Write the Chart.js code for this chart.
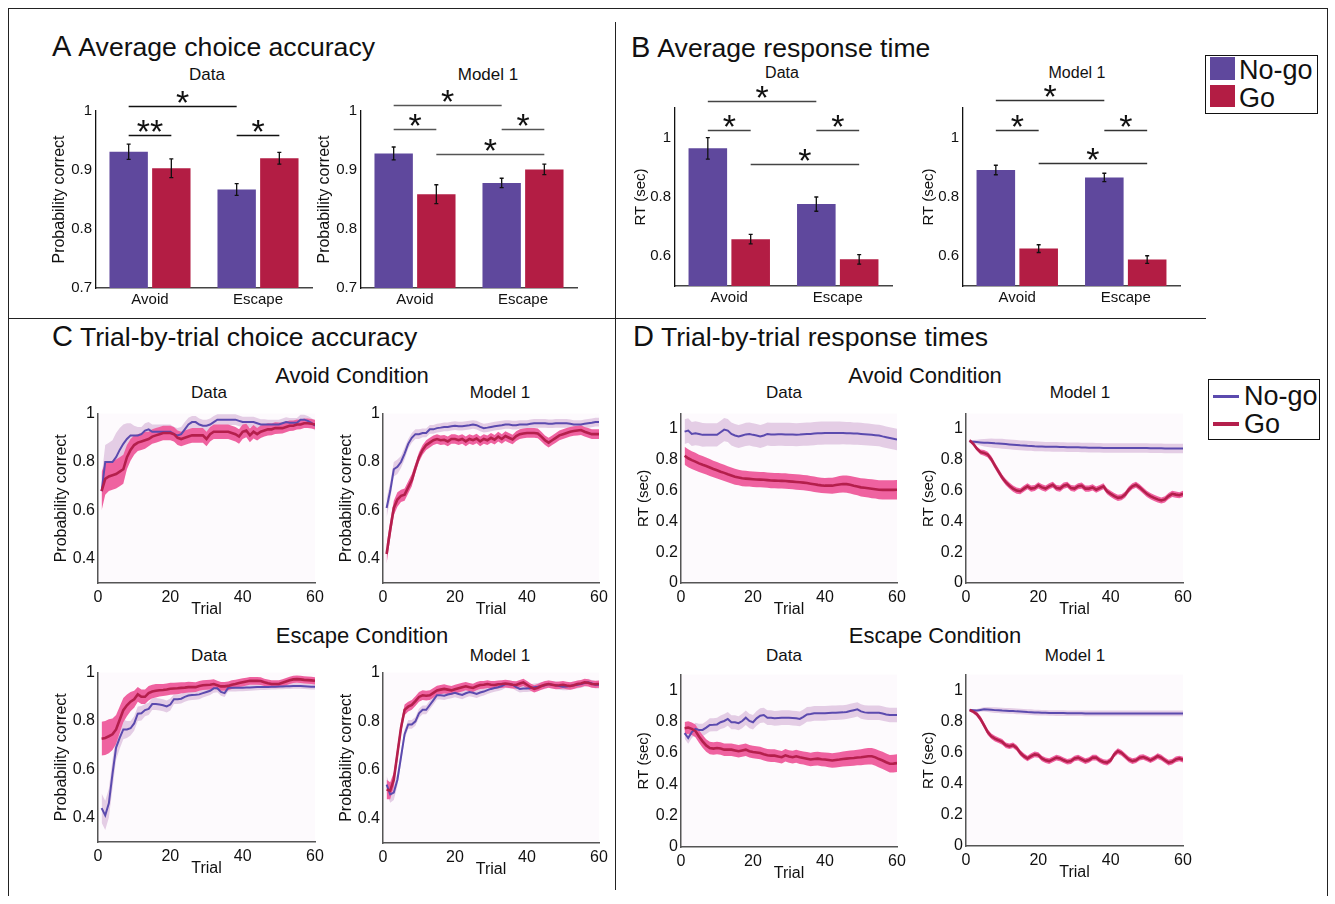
<!DOCTYPE html>
<html>
<head>
<meta charset="utf-8">
<title>Go / No-go avoid and escape</title>
<script src="https://cdn.jsdelivr.net/npm/chart.js@4.4.1/dist/chart.umd.min.js"></script>
<style>
  body { margin: 0; background: #fff; font-family: 'Liberation Sans', Arial, sans-serif; color: #111; }
  #fig { position: relative; width: 1335px; height: 904px; overflow: hidden; }
  #fig canvas { position: absolute; }
  .t { position: absolute; white-space: nowrap; line-height: 1; transform: translate(-50%, -50%); }
  .hd { position: absolute; white-space: nowrap; line-height: 1; transform: translateY(-50%); font-size: 26.6px; }
  .hd span { font-size: 29px; margin-right: 7px; }
  .rule { position: absolute; background: #222; }
  .legend { position: absolute; border: 1.5px solid #111; background: #fff; font-size: 27px; }
  .legend div { position: absolute; }
  .legend .lab { left: 33px; line-height: 1; transform: translateY(-50%); }
</style>
</head>
<body>
<div id="fig">
  <div class="rule" style="left:8px;top:8px;width:1320px;height:1px"></div>
  <div class="rule" style="left:8px;top:8px;width:1px;height:888px"></div>
  <div class="rule" style="left:1327px;top:8px;width:1px;height:888px"></div>
  <div class="rule" style="left:615px;top:22px;width:1px;height:868px"></div>
  <div class="rule" style="left:8px;top:318px;width:1198px;height:1px"></div>

  <div class="hd" style="left:52px;top:46px"><span>A</span>Average choice accuracy</div>
  <div class="hd" style="left:631px;top:47px"><span>B</span>Average response time</div>
  <div class="hd" style="left:52px;top:336px"><span>C</span>Trial-by-trial choice accuracy</div>
  <div class="hd" style="left:633px;top:336px"><span>D</span>Trial-by-trial response times</div>

  <div class="t" style="left:207px;top:74px;font-size:17px">Data</div>
  <div class="t" style="left:488px;top:74px;font-size:17px">Model 1</div>
  <div class="t" style="left:782px;top:73px;font-size:16px">Data</div>
  <div class="t" style="left:1077px;top:73px;font-size:16px">Model 1</div>

  <div class="t" style="left:352px;top:376px;font-size:22px">Avoid Condition</div>
  <div class="t" style="left:362px;top:636px;font-size:22px">Escape Condition</div>
  <div class="t" style="left:925px;top:376px;font-size:22px">Avoid Condition</div>
  <div class="t" style="left:935px;top:636px;font-size:22px">Escape Condition</div>

  <div class="t" style="left:209px;top:392px;font-size:17px">Data</div>
  <div class="t" style="left:500px;top:392px;font-size:17px">Model 1</div>
  <div class="t" style="left:209px;top:655px;font-size:17px">Data</div>
  <div class="t" style="left:500px;top:655px;font-size:17px">Model 1</div>
  <div class="t" style="left:784px;top:392px;font-size:17px">Data</div>
  <div class="t" style="left:1080px;top:392px;font-size:17px">Model 1</div>
  <div class="t" style="left:784px;top:655px;font-size:17px">Data</div>
  <div class="t" style="left:1075px;top:655px;font-size:17px">Model 1</div>

  <div class="legend" style="left:1205px;top:55px;width:111px;height:57px">
    <div style="left:4px;top:1px;width:25px;height:23px;background:#5f489d"></div>
    <div class="lab" style="top:14px">No-go</div>
    <div style="left:4px;top:29px;width:25px;height:22px;background:#b31d44"></div>
    <div class="lab" style="top:42px">Go</div>
  </div>
  <div class="legend" style="left:1208px;top:379px;width:110px;height:59px">
    <div style="left:4px;top:15px;width:26px;height:3px;background:#5b4aae"></div>
    <div class="lab" style="left:35px;top:16px">No-go</div>
    <div style="left:4px;top:42px;width:26px;height:4px;background:#b41f4c"></div>
    <div class="lab" style="left:35px;top:44px">Go</div>
  </div>
</div>

<script>
// ---- bar data (A: choice accuracy, B: response time) ----
const conditions = ['Avoid', 'Escape'];

const accDataNogo = [0.931, 0.867];
const accDataNogoErr = [0.013, 0.010];
const accDataGo = [0.903, 0.920];
const accDataGoErr = [0.016, 0.010];

const accModelNogo = [0.928, 0.878];
const accModelNogoErr = [0.011, 0.008];
const accModelGo = [0.859, 0.901];
const accModelGoErr = [0.016, 0.009];

const rtDataNogo = [0.964, 0.776];
const rtDataNogoErr = [0.036, 0.024];
const rtDataGo = [0.658, 0.590];
const rtDataGoErr = [0.016, 0.016];

const rtModelNogo = [0.891, 0.866];
const rtModelNogoErr = [0.016, 0.014];
const rtModelGo = [0.626, 0.589];
const rtModelGoErr = [0.013, 0.013];

const accTicks = [0.7, 0.8, 0.9, 1];
const rtBarTicks = [0.6, 0.8, 1];

// ---- trial-by-trial data (C: accuracy, D: RT) ----
const trials = [1,2,3,4,5,6,7,8,9,10,11,12,13,14,15,16,17,18,19,20,21,22,23,24,25,26,27,28,29,30,
  31,32,33,34,35,36,37,38,39,40,41,42,43,44,45,46,47,48,49,50,51,52,53,54,55,56,57,58,59,60];
const trialTicks = [0, 20, 40, 60];
const probTicks = [0.4, 0.6, 0.8, 1];
const rtTicks = [0, 0.2, 0.4, 0.6, 0.8, 1];

const cAvDataNogo = [0.68,0.80,0.80,0.80,0.82,0.85,0.875,0.895,0.91,0.91,
  0.91,0.915,0.93,0.935,0.925,0.925,0.925,0.925,0.925,0.925,
  0.915,0.91,0.915,0.935,0.955,0.965,0.965,0.955,0.95,0.95,
  0.955,0.965,0.975,0.975,0.975,0.975,0.975,0.975,0.97,0.965,
  0.965,0.965,0.965,0.96,0.955,0.955,0.955,0.955,0.955,0.955,
  0.96,0.965,0.962,0.962,0.962,0.975,0.975,0.97,0.962,0.95];
const cAvDataNogoSem = [0.06,0.07,0.08,0.09,0.10,0.09,0.08,0.065,0.05,0.04,
  0.035,0.03,0.03,0.03,0.03,0.03,0.03,0.03,0.03,0.03,
  0.03,0.03,0.03,0.03,0.028,0.025,0.025,0.025,0.025,0.025,
  0.025,0.025,0.022,0.022,0.022,0.022,0.022,0.022,0.022,0.022,
  0.022,0.022,0.022,0.022,0.022,0.022,0.02,0.02,0.02,0.02,
  0.02,0.02,0.02,0.02,0.02,0.02,0.02,0.02,0.02,0.02];
const cAvDataGo = [0.68,0.73,0.74,0.745,0.75,0.76,0.77,0.82,0.85,0.87,
  0.88,0.885,0.89,0.895,0.905,0.91,0.915,0.92,0.92,0.92,
  0.915,0.90,0.895,0.90,0.905,0.91,0.91,0.91,0.91,0.895,
  0.915,0.925,0.925,0.925,0.925,0.925,0.92,0.915,0.905,0.925,
  0.93,0.91,0.925,0.915,0.925,0.93,0.935,0.935,0.94,0.94,
  0.94,0.945,0.95,0.95,0.955,0.955,0.96,0.96,0.958,0.955];
const cAvDataGoSem = [0.08,0.065,0.06,0.06,0.06,0.06,0.06,0.05,0.045,0.04,
  0.035,0.035,0.035,0.03,0.03,0.03,0.03,0.03,0.03,0.03,
  0.03,0.03,0.03,0.03,0.03,0.03,0.03,0.03,0.03,0.03,
  0.03,0.03,0.03,0.03,0.03,0.03,0.03,0.03,0.03,0.03,
  0.028,0.028,0.028,0.026,0.026,0.025,0.025,0.024,0.024,0.023,
  0.022,0.022,0.022,0.021,0.021,0.02,0.02,0.02,0.02,0.02];

const cAvModelNogo = [0.61,0.68,0.77,0.78,0.80,0.835,0.875,0.90,0.915,0.915,
  0.92,0.92,0.935,0.935,0.94,0.942,0.945,0.945,0.948,0.95,
  0.948,0.948,0.95,0.952,0.955,0.952,0.945,0.94,0.942,0.945,
  0.948,0.95,0.952,0.955,0.955,0.952,0.952,0.955,0.955,0.955,
  0.958,0.96,0.96,0.96,0.96,0.958,0.958,0.96,0.96,0.96,
  0.96,0.958,0.955,0.955,0.955,0.958,0.96,0.962,0.965,0.965];
const cAvModelNogoSem = [0.04,0.035,0.03,0.03,0.025,0.025,0.02,0.02,0.02,0.02,
  0.018,0.018,0.018,0.018,0.018,0.018,0.018,0.018,0.018,0.018,
  0.018,0.018,0.018,0.018,0.018,0.018,0.018,0.018,0.018,0.018,
  0.018,0.018,0.018,0.018,0.018,0.018,0.018,0.018,0.018,0.018,
  0.018,0.018,0.018,0.018,0.018,0.018,0.018,0.018,0.018,0.018,
  0.018,0.018,0.018,0.018,0.018,0.018,0.018,0.018,0.018,0.018];
const cAvModelGo = [0.42,0.52,0.61,0.645,0.66,0.665,0.695,0.725,0.775,0.82,
  0.85,0.87,0.88,0.89,0.895,0.89,0.892,0.885,0.895,0.895,
  0.89,0.895,0.885,0.895,0.89,0.897,0.885,0.895,0.89,0.90,
  0.892,0.905,0.895,0.907,0.90,0.893,0.907,0.915,0.918,0.92,
  0.92,0.92,0.918,0.905,0.89,0.88,0.89,0.90,0.91,0.915,
  0.92,0.925,0.928,0.93,0.932,0.925,0.92,0.915,0.915,0.915];
const cAvModelGoSem = [0.04,0.035,0.03,0.03,0.025,0.025,0.025,0.025,0.02,0.02,
  0.02,0.02,0.02,0.02,0.02,0.02,0.02,0.02,0.02,0.02,
  0.02,0.02,0.02,0.02,0.02,0.02,0.02,0.02,0.02,0.02,
  0.02,0.02,0.02,0.02,0.02,0.02,0.02,0.02,0.02,0.02,
  0.02,0.02,0.02,0.02,0.02,0.02,0.02,0.02,0.02,0.02,
  0.02,0.02,0.02,0.02,0.02,0.02,0.02,0.02,0.02,0.02];

const cEsDataNogo = [0.44,0.41,0.46,0.58,0.69,0.73,0.765,0.765,0.77,0.79,
  0.83,0.832,0.845,0.85,0.87,0.87,0.868,0.865,0.86,0.868,
  0.89,0.89,0.892,0.90,0.905,0.907,0.908,0.91,0.915,0.92,
  0.925,0.935,0.935,0.92,0.915,0.937,0.937,0.937,0.937,0.937,
  0.938,0.938,0.939,0.94,0.94,0.94,0.941,0.942,0.942,0.943,
  0.943,0.944,0.944,0.945,0.945,0.945,0.944,0.943,0.942,0.942];
const cEsDataNogoSem = [0.06,0.06,0.06,0.06,0.05,0.045,0.04,0.035,0.03,0.03,
  0.03,0.03,0.025,0.025,0.025,0.025,0.025,0.025,0.025,0.025,
  0.02,0.02,0.02,0.02,0.02,0.02,0.02,0.02,0.018,0.018,
  0.018,0.018,0.016,0.016,0.016,0.015,0.015,0.015,0.014,0.014,
  0.014,0.013,0.013,0.013,0.012,0.012,0.012,0.012,0.012,0.012,
  0.012,0.012,0.012,0.012,0.012,0.012,0.012,0.012,0.012,0.012];
const cEsDataGo = [0.727,0.73,0.737,0.745,0.765,0.805,0.845,0.865,0.88,0.89,
  0.91,0.90,0.90,0.915,0.922,0.925,0.927,0.928,0.93,0.933,
  0.934,0.935,0.937,0.938,0.94,0.94,0.94,0.945,0.948,0.949,
  0.95,0.953,0.948,0.943,0.943,0.945,0.95,0.953,0.957,0.96,
  0.963,0.966,0.966,0.966,0.965,0.96,0.956,0.953,0.953,0.953,
  0.958,0.963,0.968,0.972,0.973,0.972,0.97,0.969,0.968,0.966];
const cEsDataGoSem = [0.07,0.07,0.07,0.065,0.06,0.055,0.05,0.045,0.04,0.035,
  0.03,0.03,0.03,0.03,0.028,0.028,0.026,0.025,0.025,0.025,
  0.024,0.024,0.023,0.022,0.022,0.021,0.02,0.02,0.02,0.02,
  0.02,0.02,0.018,0.018,0.018,0.018,0.018,0.017,0.017,0.017,
  0.016,0.016,0.016,0.016,0.016,0.015,0.015,0.015,0.015,0.015,
  0.015,0.015,0.015,0.015,0.015,0.015,0.015,0.015,0.015,0.015];

const cEsModelNogo = [0.54,0.50,0.507,0.56,0.653,0.747,0.787,0.787,0.80,0.833,
  0.847,0.847,0.867,0.887,0.907,0.907,0.905,0.91,0.913,0.917,
  0.912,0.908,0.915,0.92,0.917,0.912,0.918,0.922,0.928,0.933,
  0.937,0.94,0.945,0.953,0.952,0.95,0.94,0.933,0.935,0.935,
  0.937,0.94,0.942,0.945,0.948,0.953,0.95,0.948,0.945,0.942,
  0.943,0.945,0.948,0.95,0.953,0.957,0.96,0.955,0.95,0.95];
const cEsModelNogoSem = [0.035,0.035,0.03,0.025,0.025,0.02,0.018,0.018,0.018,0.018,
  0.018,0.018,0.018,0.018,0.018,0.018,0.018,0.018,0.018,0.018,
  0.017,0.017,0.017,0.017,0.017,0.016,0.016,0.016,0.016,0.016,
  0.016,0.016,0.016,0.016,0.016,0.015,0.015,0.015,0.015,0.015,
  0.015,0.015,0.015,0.015,0.015,0.015,0.015,0.015,0.015,0.015,
  0.015,0.015,0.015,0.015,0.015,0.015,0.015,0.015,0.015,0.015];
const cEsModelGo = [0.52,0.515,0.56,0.667,0.773,0.847,0.86,0.867,0.883,0.90,
  0.907,0.905,0.907,0.917,0.927,0.93,0.933,0.93,0.927,0.932,
  0.936,0.94,0.944,0.94,0.937,0.944,0.949,0.95,0.953,0.95,
  0.949,0.952,0.953,0.955,0.953,0.95,0.949,0.955,0.96,0.95,
  0.94,0.933,0.938,0.945,0.95,0.953,0.95,0.947,0.948,0.95,
  0.947,0.945,0.948,0.953,0.955,0.96,0.958,0.953,0.952,0.953];
const cEsModelGoSem = [0.04,0.035,0.03,0.028,0.025,0.022,0.02,0.02,0.02,0.02,
  0.02,0.02,0.02,0.02,0.019,0.019,0.019,0.018,0.018,0.018,
  0.018,0.018,0.017,0.017,0.017,0.017,0.016,0.016,0.016,0.016,
  0.016,0.016,0.016,0.016,0.016,0.015,0.015,0.015,0.015,0.015,
  0.015,0.015,0.015,0.015,0.015,0.015,0.015,0.015,0.015,0.015,
  0.015,0.015,0.015,0.015,0.015,0.015,0.015,0.015,0.015,0.015];

const dAvDataNogo = [0.983,0.99,0.968,0.972,0.968,0.962,0.962,0.962,0.962,0.962,
  0.979,0.996,0.99,0.968,0.958,0.951,0.958,0.965,0.968,0.962,
  0.958,0.951,0.958,0.968,0.965,0.965,0.966,0.966,0.965,0.965,
  0.964,0.963,0.964,0.966,0.967,0.968,0.97,0.972,0.973,0.974,
  0.974,0.974,0.974,0.974,0.974,0.973,0.972,0.97,0.97,0.968,
  0.966,0.964,0.962,0.96,0.958,0.952,0.947,0.942,0.937,0.932];
const dAvDataNogoSem = [0.08,0.08,0.078,0.078,0.077,0.077,0.076,0.076,0.076,0.076,
  0.075,0.075,0.075,0.075,0.075,0.075,0.075,0.075,0.075,0.075,
  0.075,0.075,0.075,0.075,0.075,0.075,0.075,0.075,0.075,0.075,
  0.075,0.075,0.075,0.075,0.075,0.075,0.075,0.075,0.075,0.075,
  0.074,0.074,0.074,0.074,0.073,0.073,0.073,0.072,0.072,0.072,
  0.071,0.071,0.07,0.07,0.07,0.07,0.07,0.07,0.07,0.07];
const dAvDataGo = [0.826,0.81,0.798,0.788,0.777,0.768,0.76,0.75,0.74,0.732,
  0.723,0.715,0.706,0.698,0.69,0.685,0.68,0.678,0.676,0.674,
  0.672,0.671,0.67,0.668,0.666,0.665,0.664,0.663,0.662,0.66,
  0.658,0.656,0.654,0.652,0.649,0.645,0.641,0.637,0.634,0.632,
  0.632,0.632,0.636,0.64,0.643,0.642,0.638,0.632,0.627,0.621,
  0.618,0.615,0.612,0.609,0.606,0.605,0.605,0.605,0.605,0.606];
const dAvDataGoSem = [0.058,0.058,0.057,0.057,0.056,0.056,0.055,0.055,0.054,0.054,
  0.053,0.053,0.052,0.052,0.052,0.051,0.051,0.051,0.05,0.05,
  0.05,0.05,0.05,0.05,0.05,0.05,0.05,0.05,0.05,0.05,
  0.05,0.05,0.05,0.05,0.05,0.05,0.05,0.05,0.05,0.05,
  0.051,0.052,0.053,0.054,0.055,0.056,0.057,0.058,0.058,0.059,
  0.06,0.06,0.061,0.061,0.062,0.062,0.062,0.063,0.063,0.063];

const dAvModelNogo = [0.919,0.917,0.915,0.913,0.911,0.91,0.909,0.907,0.906,0.904,
  0.902,0.90,0.898,0.896,0.894,0.893,0.891,0.89,0.888,0.887,
  0.886,0.885,0.885,0.884,0.884,0.883,0.883,0.882,0.882,0.881,
  0.881,0.88,0.88,0.879,0.879,0.878,0.878,0.877,0.877,0.877,
  0.877,0.877,0.877,0.877,0.876,0.876,0.876,0.876,0.876,0.876,
  0.875,0.875,0.875,0.875,0.874,0.874,0.874,0.874,0.874,0.874];
const dAvModelNogoSem = [0.008,0.012,0.016,0.02,0.024,0.027,0.029,0.03,0.031,0.032,
  0.032,0.032,0.032,0.032,0.032,0.032,0.032,0.032,0.032,0.032,
  0.031,0.031,0.031,0.031,0.031,0.031,0.031,0.031,0.031,0.031,
  0.031,0.031,0.031,0.031,0.031,0.031,0.031,0.031,0.031,0.031,
  0.031,0.031,0.031,0.031,0.031,0.031,0.031,0.031,0.031,0.031,
  0.031,0.031,0.031,0.031,0.031,0.031,0.031,0.031,0.031,0.031];
const dAvModelGo = [0.926,0.904,0.872,0.851,0.845,0.834,0.804,0.762,0.723,0.685,
  0.655,0.632,0.613,0.60,0.596,0.613,0.628,0.613,0.617,0.634,
  0.621,0.613,0.628,0.638,0.617,0.613,0.632,0.638,0.617,0.613,
  0.628,0.632,0.613,0.613,0.621,0.606,0.617,0.628,0.596,0.579,
  0.564,0.553,0.557,0.574,0.606,0.628,0.638,0.621,0.60,0.579,
  0.564,0.553,0.543,0.536,0.543,0.564,0.579,0.574,0.57,0.579];
const dAvModelGoSem = [0.01,0.012,0.014,0.016,0.018,0.019,0.02,0.02,0.02,0.02,
  0.02,0.02,0.02,0.02,0.02,0.02,0.02,0.02,0.02,0.02,
  0.02,0.02,0.02,0.02,0.02,0.02,0.02,0.02,0.02,0.02,
  0.02,0.02,0.02,0.02,0.02,0.02,0.02,0.02,0.02,0.02,
  0.02,0.02,0.02,0.02,0.02,0.02,0.02,0.02,0.02,0.02,
  0.02,0.02,0.02,0.02,0.02,0.02,0.02,0.02,0.02,0.02];

const dEsDataNogo = [0.726,0.695,0.733,0.754,0.747,0.747,0.762,0.779,0.78,0.782,
  0.796,0.804,0.817,0.796,0.796,0.79,0.804,0.825,0.804,0.796,
  0.821,0.838,0.842,0.825,0.825,0.821,0.823,0.825,0.825,0.825,
  0.823,0.821,0.817,0.83,0.846,0.848,0.853,0.853,0.853,0.853,
  0.855,0.857,0.857,0.858,0.859,0.862,0.868,0.873,0.878,0.865,
  0.859,0.857,0.857,0.857,0.857,0.852,0.846,0.842,0.842,0.842];
const dEsDataNogoSem = [0.035,0.036,0.037,0.038,0.039,0.04,0.041,0.042,0.042,0.043,
  0.043,0.044,0.044,0.045,0.045,0.045,0.046,0.046,0.046,0.046,
  0.047,0.047,0.047,0.047,0.047,0.047,0.047,0.047,0.047,0.047,
  0.047,0.047,0.047,0.047,0.047,0.047,0.047,0.047,0.047,0.047,
  0.046,0.046,0.046,0.046,0.046,0.046,0.046,0.046,0.046,0.046,
  0.046,0.046,0.046,0.046,0.046,0.046,0.046,0.046,0.046,0.046];
const dEsDataGo = [0.758,0.762,0.754,0.741,0.705,0.674,0.648,0.632,0.628,0.632,
  0.628,0.621,0.621,0.621,0.616,0.611,0.616,0.621,0.611,0.606,
  0.603,0.60,0.592,0.585,0.583,0.583,0.578,0.573,0.585,0.578,
  0.573,0.579,0.572,0.568,0.563,0.558,0.562,0.564,0.56,0.558,
  0.555,0.552,0.555,0.558,0.562,0.564,0.566,0.568,0.571,0.573,
  0.576,0.579,0.579,0.572,0.561,0.552,0.541,0.531,0.532,0.535];
const dEsDataGoSem = [0.04,0.04,0.04,0.04,0.04,0.04,0.04,0.04,0.04,0.04,
  0.04,0.04,0.04,0.04,0.04,0.04,0.04,0.04,0.04,0.04,
  0.04,0.04,0.04,0.04,0.04,0.04,0.04,0.04,0.04,0.04,
  0.041,0.041,0.042,0.042,0.043,0.043,0.044,0.044,0.045,0.045,
  0.046,0.046,0.047,0.047,0.048,0.048,0.049,0.05,0.05,0.051,
  0.052,0.052,0.053,0.054,0.054,0.055,0.055,0.056,0.056,0.056];

const dEsModelNogo = [0.873,0.871,0.869,0.873,0.877,0.876,0.874,0.872,0.871,0.869,
  0.868,0.867,0.866,0.864,0.863,0.862,0.86,0.859,0.857,0.856,
  0.855,0.855,0.854,0.854,0.853,0.853,0.853,0.852,0.852,0.852,
  0.852,0.852,0.851,0.851,0.851,0.851,0.851,0.851,0.851,0.851,
  0.851,0.851,0.851,0.851,0.851,0.851,0.851,0.851,0.851,0.851,
  0.851,0.851,0.851,0.851,0.851,0.851,0.851,0.851,0.851,0.851];
const dEsModelNogoSem = [0.006,0.008,0.01,0.012,0.014,0.016,0.017,0.018,0.018,0.018,
  0.018,0.018,0.018,0.018,0.018,0.018,0.018,0.018,0.018,0.018,
  0.018,0.018,0.018,0.018,0.018,0.018,0.018,0.018,0.018,0.018,
  0.018,0.018,0.018,0.018,0.018,0.018,0.018,0.018,0.018,0.018,
  0.018,0.018,0.018,0.018,0.018,0.018,0.018,0.018,0.018,0.018,
  0.018,0.018,0.018,0.018,0.018,0.018,0.018,0.018,0.018,0.018];
const dEsModelGo = [0.873,0.863,0.846,0.816,0.774,0.731,0.704,0.689,0.679,0.668,
  0.647,0.64,0.647,0.63,0.598,0.577,0.562,0.577,0.588,0.584,
  0.562,0.55,0.545,0.556,0.567,0.562,0.55,0.541,0.545,0.562,
  0.567,0.556,0.545,0.552,0.567,0.567,0.55,0.539,0.535,0.55,
  0.588,0.609,0.598,0.577,0.556,0.545,0.55,0.567,0.571,0.562,
  0.55,0.562,0.577,0.567,0.55,0.535,0.541,0.556,0.562,0.554];
const dEsModelGoSem = [0.008,0.012,0.015,0.018,0.018,0.018,0.018,0.018,0.018,0.018,
  0.018,0.018,0.018,0.018,0.018,0.018,0.018,0.018,0.018,0.018,
  0.018,0.018,0.018,0.018,0.018,0.018,0.018,0.018,0.018,0.018,
  0.018,0.018,0.018,0.018,0.018,0.018,0.018,0.018,0.018,0.018,
  0.018,0.018,0.018,0.018,0.018,0.018,0.018,0.018,0.018,0.018,
  0.018,0.018,0.018,0.018,0.018,0.018,0.018,0.018,0.018,0.018];

// ---- styling ----
const NOGO_BAR = '#5f489d', GO_BAR = '#b31d44';
const NOGO_LINE = '#5b4aae', GO_LINE = '#b41f4c';
const NOGO_BAND = '#e4cde5', GO_BAND = '#ef62a0';
const FONT = "'Liberation Sans', Arial, sans-serif";

Chart.defaults.font.family = FONT;
Chart.defaults.color = '#111';

const fmt = v => (v === 0 || v === 1) ? String(v) : v.toFixed(1);

function mount(box) {
  const c = document.createElement('canvas');
  c.width = box.r - box.l + box.pad.l + box.pad.r;
  c.height = box.b - box.t + box.pad.t + box.pad.b;
  c.style.left = (box.l - box.pad.l) + 'px';
  c.style.top = (box.t - box.pad.t) + 'px';
  document.getElementById('fig').appendChild(c);
  return c;
}

// plot area tint used by the trial-by-trial panels
const plotBg = {
  id: 'plotBg',
  beforeDraw(chart) {
    const { ctx, chartArea: a } = chart;
    ctx.save();
    ctx.fillStyle = '#fdfafd';
    ctx.fillRect(a.left, a.top, a.right - a.left, a.bottom - a.top);
    ctx.restore();
  }
};

// error bars + significance brackets on the bar panels
const barDeco = {
  id: 'barDeco',
  afterDatasetsDraw(chart, args, opts) {
    const { ctx } = chart, y = chart.scales.y;
    ctx.save();
    ctx.strokeStyle = '#111';
    ctx.lineWidth = 1.3;
    chart.data.datasets.forEach((ds, di) => {
      chart.getDatasetMeta(di).data.forEach((bar, i) => {
        const hi = y.getPixelForValue(ds.data[i] + ds.err[i]);
        const lo = y.getPixelForValue(ds.data[i] - ds.err[i]);
        ctx.beginPath();
        ctx.moveTo(bar.x, hi); ctx.lineTo(bar.x, lo);
        ctx.moveTo(bar.x - 2, hi); ctx.lineTo(bar.x + 2, hi);
        ctx.moveTo(bar.x - 2, lo); ctx.lineTo(bar.x + 2, lo);
        ctx.stroke();
      });
    });
    ctx.strokeStyle = opts.color || '#222';
    ctx.fillStyle = '#111';
    ctx.font = '34px ' + FONT;
    ctx.textAlign = 'center';
    (opts.marks || []).forEach(m => {
      const a = chart.getDatasetMeta(m.from[0]).data[m.from[1]];
      const b = chart.getDatasetMeta(m.to[0]).data[m.to[1]];
      const py = Math.round(y.getPixelForValue(m.at)) + 0.5;
      ctx.beginPath();
      ctx.moveTo(a.x, py); ctx.lineTo(b.x, py);
      ctx.stroke();
      ctx.fillText(m.text, (a.x + b.x) / 2, py + 7);
    });
    ctx.restore();
  }
};

function barChart(box, range, ticks, yTitle, nogo, nogoErr, go, goErr, marks, markColor) {
  new Chart(mount(box), {
    type: 'bar',
    data: {
      labels: conditions,
      datasets: [
        { label: 'No-go', data: nogo, err: nogoErr, backgroundColor: NOGO_BAR, borderWidth: 0, categoryPercentage: 0.79, barPercentage: 0.9 },
        { label: 'Go', data: go, err: goErr, backgroundColor: GO_BAR, borderWidth: 0, categoryPercentage: 0.79, barPercentage: 0.9 }
      ]
    },
    options: {
      responsive: false, animation: false, devicePixelRatio: 1,
      layout: { padding: { top: box.pad.t, right: box.pad.r, left: 0, bottom: 0 } },
      plugins: { legend: { display: false }, tooltip: { enabled: false }, barDeco: { marks, color: markColor } },
      scales: {
        x: {
          grid: { display: false, drawTicks: false },
          border: { color: '#444', width: 1.5 },
          ticks: { font: { size: 15 }, padding: 3, color: '#111' },
          afterFit: s => { s.height = box.pad.b; }
        },
        y: {
          min: range[0], max: range[1],
          grid: { display: false, drawTicks: false },
          border: { color: '#111', width: 1.3 },
          afterBuildTicks: s => { s.ticks = ticks.map(v => ({ value: v })); },
          ticks: { font: { size: 15 }, padding: 4, color: '#111', callback: v => fmt(v) },
          title: { display: true, text: yTitle, font: { size: yTitle === 'RT (sec)' ? 15 : 16 }, padding: 0, color: '#111' },
          afterFit: s => { s.width = box.pad.l; }
        }
      }
    },
    plugins: [barDeco]
  });
}

function trialChart(box, range, ticks, yTitle, nogo, nogoSem, go, goSem) {
  const up = (m, s) => m.map((v, i) => v + s[i]);
  const lo = (m, s) => m.map((v, i) => v - s[i]);
  const band = (data, color, fill, order) => ({
    data, fill, order, backgroundColor: color, borderColor: 'rgba(0,0,0,0)', borderWidth: 0, pointRadius: 0
  });
  new Chart(mount(box), {
    type: 'line',
    data: {
      labels: trials,
      datasets: [
        band(up(nogo, nogoSem), NOGO_BAND, '+1', 4),
        band(lo(nogo, nogoSem), NOGO_BAND, false, 4),
        band(up(go, goSem), GO_BAND, '+1', 3),
        band(lo(go, goSem), GO_BAND, false, 3),
        { data: nogo, borderColor: NOGO_LINE, borderWidth: 2, pointRadius: 0, fill: false, order: 2 },
        { data: go, borderColor: GO_LINE, borderWidth: 2.6, pointRadius: 0, fill: false, order: 1 }
      ]
    },
    options: {
      responsive: false, animation: false, devicePixelRatio: 1,
      layout: { padding: { top: box.pad.t, right: box.pad.r, left: 0, bottom: 0 } },
      elements: { line: { tension: 0 } },
      plugins: { legend: { display: false }, tooltip: { enabled: false } },
      scales: {
        x: {
          type: 'linear', min: 0, max: 60,
          grid: { display: false, drawTicks: false },
          border: { color: '#555', width: 1.5 },
          afterBuildTicks: s => { s.ticks = trialTicks.map(v => ({ value: v })); },
          ticks: { font: { size: 16 }, padding: 5, color: '#111', maxRotation: 0, callback: v => String(v) },
          title: { display: true, text: 'Trial', font: { size: 16 }, padding: 0, color: '#111' },
          afterFit: s => { s.height = box.pad.b; }
        },
        y: {
          min: range[0], max: range[1],
          grid: { display: false, drawTicks: false },
          border: { color: '#555', width: 1.5 },
          afterBuildTicks: s => { s.ticks = ticks.map(v => ({ value: v })); },
          ticks: { font: { size: 16 }, padding: 3, color: '#111', callback: v => fmt(v) },
          title: { display: true, text: yTitle, font: { size: yTitle === 'RT (sec)' ? 15 : 16 }, padding: 0, color: '#111' },
          afterFit: s => { s.width = box.pad.l; }
        }
      }
    },
    plugins: [plotBg]
  });
}

const BAR_PAD_A = { l: 46, t: 34, r: 8, b: 24 };
const BAR_PAD_B = { l: 43, t: 34, r: 8, b: 24 };
const LINE_PAD = { l: 46, t: 10, r: 14, b: 36 };

// significance brackets: [dataset, category] of each end, height in axis units
const accDataMarks = [
  { from: [0, 0], to: [0, 1], at: 1.0085, text: '*' },
  { from: [0, 0], to: [1, 0], at: 0.959, text: '**' },
  { from: [0, 1], to: [1, 1], at: 0.959, text: '*' }
];
const accModelMarks = [
  { from: [0, 0], to: [0, 1], at: 1.011, text: '*' },
  { from: [0, 0], to: [1, 0], at: 0.969, text: '*' },
  { from: [0, 1], to: [1, 1], at: 0.969, text: '*' },
  { from: [1, 0], to: [1, 1], at: 0.927, text: '*' }
];
const rtDataMarks = [
  { from: [0, 0], to: [0, 1], at: 1.123, text: '*' },
  { from: [0, 0], to: [1, 0], at: 1.025, text: '*' },
  { from: [0, 1], to: [1, 1], at: 1.025, text: '*' },
  { from: [1, 0], to: [1, 1], at: 0.912, text: '*' }
];
const rtModelMarks = [
  { from: [0, 0], to: [0, 1], at: 1.126, text: '*' },
  { from: [0, 0], to: [1, 0], at: 1.027, text: '*' },
  { from: [0, 1], to: [1, 1], at: 1.027, text: '*' },
  { from: [1, 0], to: [1, 1], at: 0.915, text: '*' }
];

barChart({ l: 96, t: 111, r: 312, b: 288, pad: BAR_PAD_A }, [0.7, 1], accTicks, 'Probability correct',
  accDataNogo, accDataNogoErr, accDataGo, accDataGoErr, accDataMarks, '#111');
barChart({ l: 361, t: 111, r: 577, b: 288, pad: BAR_PAD_A }, [0.7, 1], accTicks, 'Probability correct',
  accModelNogo, accModelNogoErr, accModelGo, accModelGoErr, accModelMarks, '#555');
barChart({ l: 675, t: 108, r: 892, b: 286, pad: BAR_PAD_B }, [0.5, 1.1], rtBarTicks, 'RT (sec)',
  rtDataNogo, rtDataNogoErr, rtDataGo, rtDataGoErr, rtDataMarks, '#444');
barChart({ l: 963, t: 108, r: 1180, b: 286, pad: BAR_PAD_B }, [0.5, 1.1], rtBarTicks, 'RT (sec)',
  rtModelNogo, rtModelNogoErr, rtModelGo, rtModelGoErr, rtModelMarks, '#333');

trialChart({ l: 98, t: 411, r: 315, b: 583, pad: LINE_PAD }, [0.3, 1], probTicks, 'Probability correct',
  cAvDataNogo, cAvDataNogoSem, cAvDataGo, cAvDataGoSem);
trialChart({ l: 383, t: 411, r: 599, b: 583, pad: LINE_PAD }, [0.3, 1], probTicks, 'Probability correct',
  cAvModelNogo, cAvModelNogoSem, cAvModelGo, cAvModelGoSem);
trialChart({ l: 98, t: 670, r: 315, b: 842, pad: LINE_PAD }, [0.3, 1], probTicks, 'Probability correct',
  cEsDataNogo, cEsDataNogoSem, cEsDataGo, cEsDataGoSem);
trialChart({ l: 383, t: 670, r: 599, b: 843, pad: LINE_PAD }, [0.3, 1], probTicks, 'Probability correct',
  cEsModelNogo, cEsModelNogoSem, cEsModelGo, cEsModelGoSem);

trialChart({ l: 681, t: 411, r: 897, b: 583, pad: LINE_PAD }, [0, 1.1], rtTicks, 'RT (sec)',
  dAvDataNogo, dAvDataNogoSem, dAvDataGo, dAvDataGoSem);
trialChart({ l: 966, t: 411, r: 1183, b: 583, pad: LINE_PAD }, [0, 1.1], rtTicks, 'RT (sec)',
  dAvModelNogo, dAvModelNogoSem, dAvModelGo, dAvModelGoSem);
trialChart({ l: 681, t: 672, r: 897, b: 847, pad: LINE_PAD }, [0, 1.1], rtTicks, 'RT (sec)',
  dEsDataNogo, dEsDataNogoSem, dEsDataGo, dEsDataGoSem);
trialChart({ l: 966, t: 672, r: 1183, b: 846, pad: LINE_PAD }, [0, 1.1], rtTicks, 'RT (sec)',
  dEsModelNogo, dEsModelNogoSem, dEsModelGo, dEsModelGoSem);
</script>
</body>
</html>
